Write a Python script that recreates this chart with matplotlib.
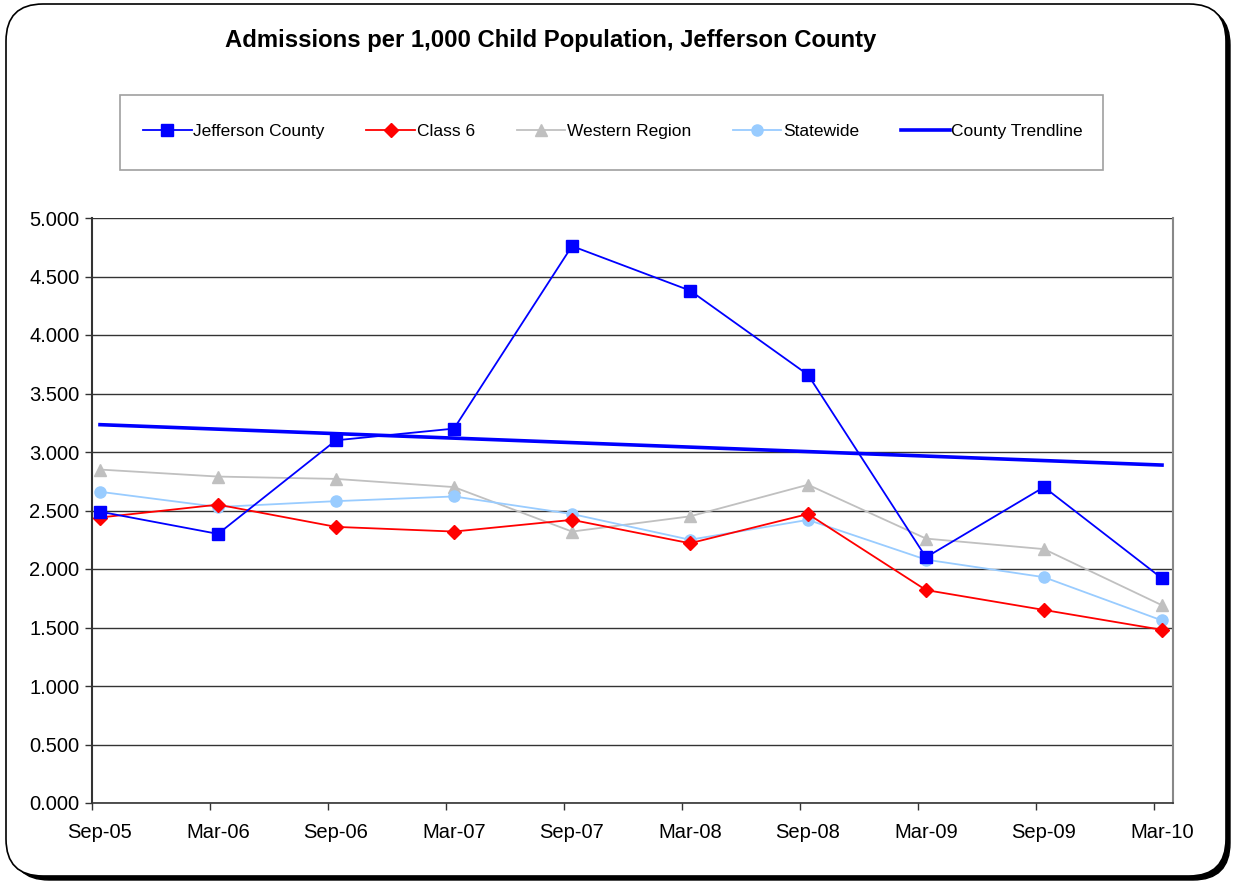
import matplotlib
matplotlib.use("Agg")
import matplotlib.pyplot as plt
import numpy as np
from matplotlib.patches import FancyBboxPatch, Rectangle
from matplotlib.ticker import FixedLocator

plt.rcParams['font.family'] = ['Liberation Sans', 'DejaVu Sans']

categories = ["Sep-05", "Mar-06", "Sep-06", "Mar-07", "Sep-07",
              "Mar-08", "Sep-08", "Mar-09", "Sep-09", "Mar-10"]
jefferson = [2.49, 2.30, 3.10, 3.20, 4.76, 4.38, 3.66, 2.10, 2.70, 1.92]
class6 = [2.44, 2.55, 2.36, 2.32, 2.42, 2.22, 2.47, 1.82, 1.65, 1.48]
western = [2.85, 2.79, 2.77, 2.70, 2.32, 2.45, 2.72, 2.26, 2.17, 1.69]
statewide = [2.66, 2.53, 2.58, 2.62, 2.47, 2.25, 2.42, 2.08, 1.93, 1.56]
y_ticks = [0.0, 0.5, 1.0, 1.5, 2.0, 2.5, 3.0, 3.5, 4.0, 4.5, 5.0]

W, H = 1233, 884
fig = plt.figure(figsize=(W / 100, H / 100), dpi=100)

# outer rounded frame with shadow
shadow = FancyBboxPatch((12 / W, 1 - 880 / H), (1230 - 12) / W, (880 - 8) / H,
                        boxstyle="round,pad=0,rounding_size=0.03",
                        transform=fig.transFigure, facecolor='black',
                        edgecolor='black', mutation_aspect=W / H, zorder=-2)
frame = FancyBboxPatch((6 / W, 1 - 876 / H), (1226 - 6) / W, (876 - 4) / H,
                       boxstyle="round,pad=0,rounding_size=0.03",
                       transform=fig.transFigure, facecolor='white',
                       edgecolor='black', linewidth=1.2, mutation_aspect=W / H, zorder=-1)
fig.patches.extend([shadow, frame])

ax = fig.add_axes([92 / W, 1 - 803 / H, (1173 - 92) / W, (803 - 218) / H])
ax.set_facecolor('none')
x = np.arange(len(categories))

ax.plot(x, jefferson, color='#0000FF', lw=1.3, marker='s', ms=8, label='Jefferson County', zorder=5)
ax.plot(x, class6, color='#FF0000', lw=1.3, marker='D', ms=7, label='Class 6', zorder=4)
ax.plot(x, western, color='#C0C0C0', lw=1.3, marker='^', ms=8, label='Western Region', zorder=3)
ax.plot(x, statewide, color='#99CCFF', lw=1.3, marker='o', ms=8, label='Statewide', zorder=3.5)
coef = np.polyfit(x, jefferson, 1)
ax.plot(x, np.polyval(coef, x), color='#0000FF', lw=2.6, label='County Trendline', zorder=6)

ax.set_ylim(0, 5)
ax.set_xlim(-8 / 118, (1173 - 100) / 118)
ax.set_yticks(y_ticks)
ax.set_yticklabels([f"{v:.3f}" for v in y_ticks], fontsize=14.5)
ax.set_xticks(x)
ax.set_xticklabels(categories, fontsize=14.5)
ax.tick_params(axis='x', which='major', length=0, pad=14.5)
ax.xaxis.set_minor_locator(FixedLocator(x - 8 / 118))
ax.tick_params(axis='x', which='minor', length=5, width=1, color='#333333', direction='out')
ax.tick_params(axis='y', length=5, width=1, color='#333333', direction='out', pad=4)
ax.yaxis.grid(True, color='#333333', lw=1)
ax.set_axisbelow(True)
ax.spines['top'].set_visible(False)
ax.spines['right'].set_color('#888888')
ax.spines['right'].set_linewidth(1.5)
ax.spines['left'].set_color('#333333')
ax.spines['left'].set_linewidth(1.5)
ax.spines['bottom'].set_color('#333333')
ax.spines['bottom'].set_linewidth(1.2)

fig.text(551 / W, 1 - 41 / H, "Admissions per 1,000 Child Population, Jefferson County",
         ha='center', va='center', fontsize=17.2, fontweight='bold')

# legend box
fig.patches.append(Rectangle((120 / W, 1 - 170 / H), 983 / W, 75 / H, transform=fig.transFigure,
                             facecolor='white', edgecolor='#A0A0A0', lw=1.2, zorder=1))
handles, labels = ax.get_legend_handles_labels()
leg = fig.legend(handles, labels, loc='center', bbox_to_anchor=(613 / W, 1 - 131 / H),
                 ncol=5, frameon=False, fontsize=12.5, handlelength=2.8, handletextpad=0.1,
                 columnspacing=2.4)
leg.set_zorder(2)

fig.savefig("out.png", dpi=100)
